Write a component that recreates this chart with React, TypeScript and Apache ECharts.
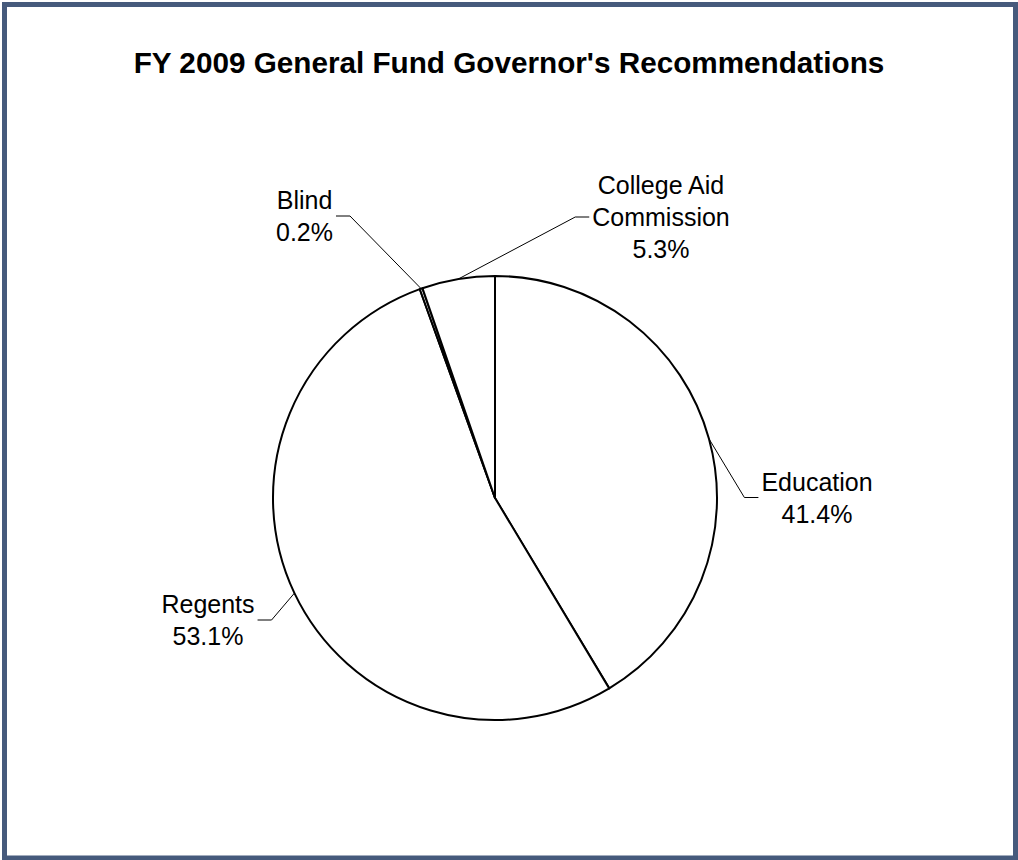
import React, { useEffect, useRef } from 'react';
import * as echarts from 'echarts';

// ---- data ----
const categories = ['Education', 'Regents', 'Blind', 'College Aid\nCommission'];
const shares = [41.4, 53.1, 0.2, 5.3];

// ---- layout (label centres, px) ----
const labelCenters: number[][] = [
  [817, 497.5],
  [208, 620],
  [304.5, 216],
  [661, 217],
];

const FONT = "'Liberation Sans', Arial, sans-serif";

export default function App() {
  const ref = useRef<HTMLDivElement>(null);
  useEffect(() => {
    document.body.style.margin = '0';
    if (!ref.current) return;
    const chart = echarts.init(ref.current, undefined, { renderer: 'svg' });
    chart.setOption({
      animation: false,
      backgroundColor: '#fff',
      title: {
        text: "FY 2009 General Fund Governor's Recommendations",
        left: 'center',
        top: 42,
        textStyle: { fontSize: 29.7, fontWeight: 'bold', color: '#000', fontFamily: FONT },
      },
      graphic: [
        {
          type: 'rect',
          shape: { x: 4.5, y: 4.5, width: 1011, height: 853.5 },
          style: { fill: 'none', stroke: '#465a7c', lineWidth: 5 },
          silent: true,
        },
      ],
      series: [
        {
          type: 'pie',
          center: [495, 498],
          radius: 222,
          startAngle: 90,
          clockwise: true,
          silent: true,
          emphasis: { disabled: true },
          avoidLabelOverlap: false,
          itemStyle: { color: '#fff', borderColor: '#000', borderWidth: 2 },
          label: {
            show: true,
            position: 'outside',
            color: '#000',
            fontSize: 25,
            lineHeight: 32,
            fontFamily: FONT,
            align: 'center',
            formatter: (p: any) => `${p.name}\n${Number(p.value).toFixed(1)}%`,
          },
          labelLine: {
            show: true,
            smooth: false,
            lineStyle: { color: '#000', width: 1 },
          },
          labelLayout: (params: any) => {
            const i = params.dataIndex;
            const [cx, cy] = labelCenters[i];
            const rect = params.labelRect;
            const pts = params.labelLinePoints;
            const start = pts && pts[0] ? pts[0] : [cx, cy];
            const toRight = cx > start[0];
            const halfW = rect.width / 2;
            const endX = toRight ? cx - halfW - 3 : cx + halfW + 3;
            const elbowX = toRight ? endX - 14 : endX + 14;
            return {
              x: cx,
              y: cy,
              align: 'center',
              verticalAlign: 'middle',
              labelLinePoints: [start, [elbowX, cy], [endX, cy]],
            };
          },
          data: categories.map((name, i) => ({ name, value: shares[i] })),
        },
      ],
    });
    return () => chart.dispose();
  }, []);
  return <div ref={ref} style={{ width: 1018, height: 860 }} />;
}
